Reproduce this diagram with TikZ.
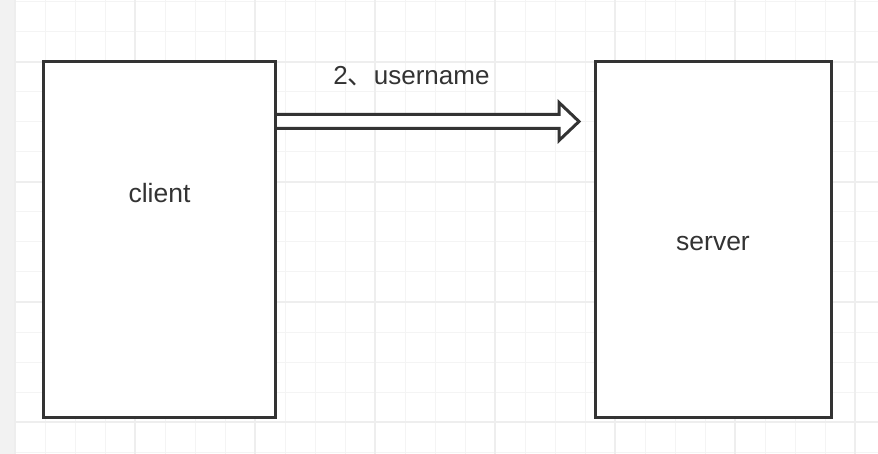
\documentclass[tikz,border=0pt]{standalone}
\usepackage{fontspec}
\setmainfont{Liberation Sans}
\newfontfamily\cjk{Noto Sans CJK SC}
\usetikzlibrary{positioning,calc}
\definecolor{inkgrey}{HTML}{333333}
\definecolor{gridthin}{HTML}{F4F4F4}
\definecolor{gridbold}{HTML}{EEEEEE}
\definecolor{stripgrey}{HTML}{F2F2F2}

\begin{document}
\begin{tikzpicture}[x=1pt,y=-1pt,
    box/.style={draw=inkgrey,line width=3pt,fill=white,minimum height=356pt,inner sep=0pt},
    boxtext/.style={text=inkgrey,inner sep=0pt,anchor=base,font=\fontsize{26.5}{30}\selectfont},
    msgtext/.style={text=inkgrey,inner sep=0pt,anchor=base,font=\fontsize{26}{30}\selectfont},
    hollowarrow/.style={draw=inkgrey,line width=3pt,fill=white}]
  \useasboundingbox (0,0) rectangle (878,454);
  % background grid
  \fill[stripgrey] (0,0) rectangle (14,454);
  \foreach \gx in {15,45,...,855}
    \draw[gridthin,line width=1pt] (\gx,0) -- (\gx,454);
  \foreach \gy in {2,32,...,452}
    \draw[gridthin,line width=1pt] (15,\gy) -- (878,\gy);
  \foreach \gx in {15,135,...,855}
    \draw[gridbold,line width=2pt] (\gx,0) -- (\gx,454);
  \foreach \gy in {62,182,302,422}
    \draw[gridbold,line width=2pt] (15,\gy) -- (878,\gy);

  % boxes
  \node[box,minimum width=232pt](client) at (159.5,239.5){};
  \node[box,minimum width=236.5pt](server) at (713.25,239.5){};
  \node[boxtext](clientlabel) at (159.5,203){client};
  \node[boxtext](serverlabel) at (713,250.7){server};

  % message arrow
  \coordinate (tip) at (579,121.5);
  \coordinate (tail) at (client.east |- tip);
  \draw[hollowarrow] ($(tail)+(0,-7)$) -- ($(tip)+(-20,-7)$) -- ($(tip)+(-20,-19)$)
    -- (tip) -- ($(tip)+(-20,19)$) -- ($(tip)+(-20,7)$) -- ($(tail)+(0,7)$);
  \node[msgtext](msg) at (411.5,84.3){2{\cjk 、}username};
\end{tikzpicture}
\end{document}
